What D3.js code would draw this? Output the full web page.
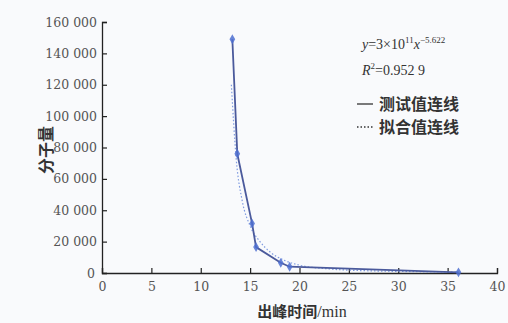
<!DOCTYPE html>
<html>
<head>
<meta charset="utf-8">
<script src="https://cdn.jsdelivr.net/npm/d3@7"></script>
<style>
  body { margin: 0; background: #f9fafc; }
  svg { display: block; }
</style>
</head>
<body>
<svg width="508" height="323"></svg>
<script>
// measured points (出峰时间 min, 分子量)
const testX = [13.2, 13.7, 15.2, 15.6, 18.1, 19.0, 36.1]
const testY = [149000, 76000, 31500, 16500, 6500, 4000, 400]
// fitted curve
const fitX = [13.1, 13.6, 14.2, 15.0, 16.0, 17.0, 18.5, 20.0, 23.0, 27.0, 31.0, 36.1]
const fitY = [120000, 72000, 46000, 30000, 20000, 13500, 8000, 5000, 2600, 1400, 900, 500]
const xTicks = [0, 5, 10, 15, 20, 25, 30, 35, 40]
const yTicks = [0, 20000, 40000, 60000, 80000, 100000, 120000, 140000, 160000]

const svg = d3.select('svg'),
    margin = {top:22,right:11,bottom:50,left:102},
    width = 508 - margin.left - margin.right,
    height = 323 - margin.top - margin.bottom,
    x = d3.scaleLinear().domain([0, 40]).range([0, width]),
    y = d3.scaleLinear().domain([0, 160000]).range([height, 0]),
    chart = svg.append("g")
      .attr("transform", "translate(" + margin.left + "," + margin.top + ")");

const fmt = d => d3.format(",")(d).replace(/,/g, " ")

const xAxis = chart.append("g")
    .attr("transform", "translate(0," + height + ")")
    .call(d3.axisBottom(x).tickValues(xTicks).tickSize(-5).tickPadding(9))

const yAxis = chart.append("g")
    .call(d3.axisLeft(y).tickValues(yTicks).tickFormat(fmt).tickSize(-5).tickPadding(5))
yAxis.selectAll(".tick").filter(d => d === 0).select("text").attr("dx", -2)

chart.selectAll(".domain").attr("stroke", "#222").attr("stroke-width", 1.3)
chart.selectAll(".tick line").attr("stroke", "#222").attr("stroke-width", 1.2)
chart.selectAll(".tick text")
    .attr("font-family", "DejaVu Serif")
    .attr("font-size", 12.5)
    .attr("fill", "#555")

// fitted (dotted)
chart.append("path")
    .datum(fitX.map((v, i) => [v, fitY[i]]))
    .attr("fill", "none")
    .attr("stroke", "#7f9be0")
    .attr("stroke-width", 1.2)
    .attr("stroke-dasharray", "1.5,2")
    .attr("d", d3.line().curve(d3.curveMonotoneX).x(d => x(d[0])).y(d => y(d[1])))

// measured (solid)
const pts = testX.map((v, i) => [v, testY[i]])
chart.append("path")
    .datum(pts)
    .attr("fill", "none")
    .attr("stroke", "#4b5a9c")
    .attr("stroke-width", 1.8)
    .attr("d", d3.line().x(d => x(d[0])).y(d => y(d[1])))

chart.selectAll(".pt")
    .data(pts)
  .enter().append("path")
    .attr("class", "pt")
    .attr("transform", d => "translate(" + x(d[0]) + "," + y(d[1]) + ")")
    .attr("d", d3.symbol(d3.symbolDiamond, 28))
    .attr("fill", "#4d6fd0")
    .attr("opacity", 0.85)

// axis titles
svg.append("text")
    .attr("transform", "translate(52,150) rotate(-90)")
    .attr("text-anchor", "middle")
    .attr("font-family", "Noto Sans CJK SC")
    .attr("font-weight", "bold")
    .attr("font-size", 16)
    .attr("fill", "#333")
    .text("分子量")

const xt = svg.append("text")
    .attr("x", 302).attr("y", 317)
    .attr("text-anchor", "middle")
    .attr("font-size", 15)
    .attr("fill", "#333")
xt.append("tspan").attr("font-family", "Noto Sans CJK SC").attr("font-weight", "bold").text("出峰时间")
xt.append("tspan").attr("font-family", "Liberation Serif").attr("font-size", 16).text("/min")

// equation
const eq = svg.append("text")
    .attr("x", 362).attr("y", 49)
    .attr("font-family", "Liberation Serif")
    .attr("font-size", 14)
    .attr("fill", "#333")
eq.append("tspan").attr("font-style", "italic").text("y")
eq.append("tspan").text("=3×10")
eq.append("tspan").attr("font-size", 9).attr("dy", -6).text("11")
eq.append("tspan").attr("font-style", "italic").attr("dy", 6).text("x")
eq.append("tspan").attr("font-size", 9).attr("dy", -6).text("−5.622")

const r2 = svg.append("text")
    .attr("x", 362).attr("y", 75)
    .attr("font-family", "Liberation Serif")
    .attr("font-size", 14)
    .attr("fill", "#333")
r2.append("tspan").attr("font-style", "italic").text("R")
r2.append("tspan").attr("font-size", 9).attr("dy", -6).text("2")
r2.append("tspan").attr("dy", 6).text("=0.952 9")

// legend
const legend = [["测试值连线", null], ["拟合值连线", "1.5,2"]]
legend.forEach(([label, dash], i) => {
  const ly = 110 + i * 23
  svg.append("line")
      .attr("x1", 357).attr("x2", 373).attr("y1", ly - 6).attr("y2", ly - 6)
      .attr("stroke", "#333").attr("stroke-width", 1.3)
      .attr("stroke-dasharray", dash)
  svg.append("text")
      .attr("x", 379).attr("y", ly)
      .attr("font-family", "Noto Sans CJK SC")
      .attr("font-weight", "bold")
      .attr("font-size", 16)
      .attr("fill", "#333")
      .text(label)
})
</script>
</body>
</html>
